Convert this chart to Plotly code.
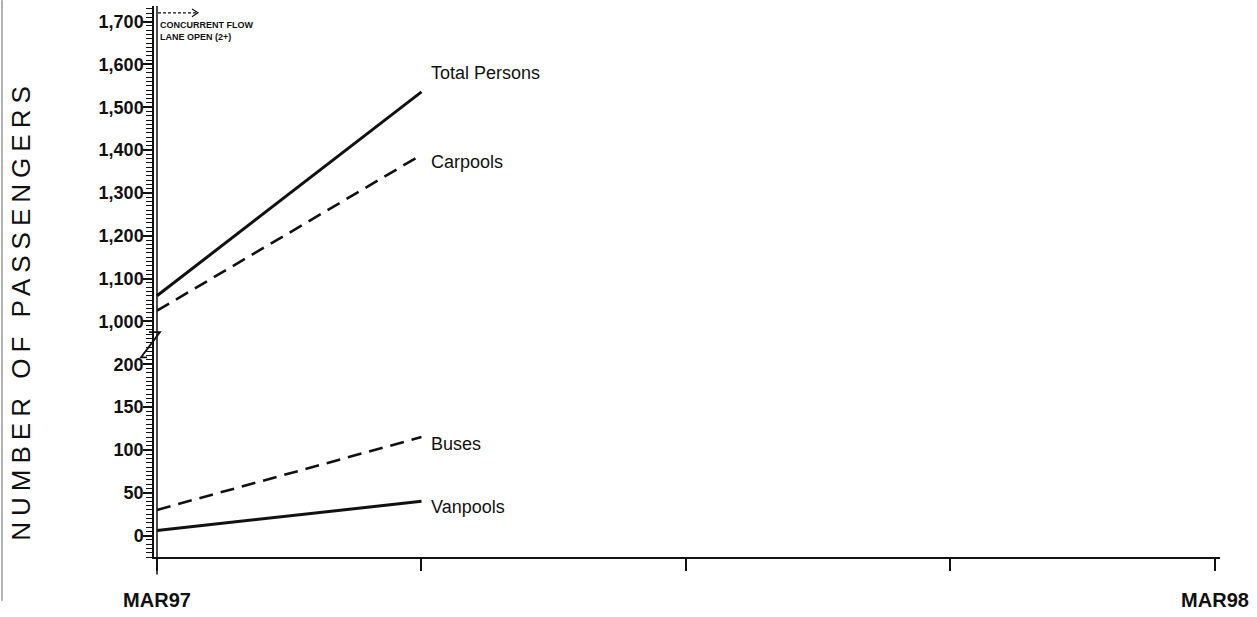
import plotly.graph_objects as go

# ---- data ----
months = [0, 3]  # months after MAR97
x_tick_vals = [0, 3, 6, 9, 12]
x_tick_text = ["MAR97", "", "", "", "MAR98"]

total_persons = [1060, 1536]
carpools = [1025, 1389]
buses = [30, 115]
vanpools = [6, 40]

y_tick_values = [0, 50, 100, 150, 200, 1000, 1100, 1200, 1300, 1400, 1500, 1600, 1700]
y_tick_text = ["0", "50", "100", "150", "200", "1,000", "1,100", "1,200",
               "1,300", "1,400", "1,500", "1,600", "1,700"]


# broken scale: 0-200 in steps of 50, then 1000-1700 in steps of 100
def yu(v):
    return v / 50.0 if v <= 200 else 5 + (v - 1000) / 100.0


FONT_NUM = "Liberation Sans, Arial"
FONT_TXT = "Liberation Sans, Arial"

fig = go.Figure()

series = [
    ("Total Persons", total_persons, "solid", 3, 19),
    ("Carpools", carpools, "14px,8px", 2.6, -7),
    ("Buses", buses, "14px,8px", 2.6, -7),
    ("Vanpools", vanpools, "solid", 3, -6),
]
for name, vals, dash, w, ys in series:
    fig.add_trace(go.Scatter(
        x=months, y=[yu(v) for v in vals], mode="lines",
        line=dict(color="#111", width=w, dash=dash), name=name,
        showlegend=False, hoverinfo="skip"))
    fig.add_annotation(x=months[-1], y=yu(vals[-1]), xref="x", yref="y",
                       text=name, showarrow=False, xanchor="left",
                       xshift=8, yshift=ys,
                       font=dict(family=FONT_TXT, size=18, color="#111"))

# plot geometry (pixels)
L, R, T, B = 154, 37, 6, 45
W, H = 1257, 617
pw, ph = W - L - R, H - T - B


def px(xp):
    return (xp - L) / pw


def py(yp):
    return (H - B - yp) / ph


fig.update_layout(
    width=W, height=H,
    margin=dict(l=L, r=R, t=T, b=B),
    paper_bgcolor="white", plot_bgcolor="white",
    xaxis=dict(range=[-0.034, 12.057], tickvals=x_tick_vals, ticktext=x_tick_text,
               showgrid=False, zeroline=False, showline=True, linecolor="#111",
               linewidth=1.5, ticks="outside", ticklen=12, tickwidth=1.5,
               tickcolor="#111", ticklabelstandoff=12,
               tickfont=dict(family=FONT_NUM, size=20, color="#111", weight="bold")),
    yaxis=dict(range=[-0.5, 12.364], tickvals=[yu(v) for v in y_tick_values],
               ticktext=y_tick_text, showgrid=False, zeroline=False, showline=True,
               linecolor="#111", linewidth=1.5, ticks="outside", ticklen=9,
               tickwidth=1.5, tickcolor="#111", ticklabelstandoff=-4,
               minor=dict(dtick=0.1, ticks="outside", ticklen=6, tickwidth=1,
                          tickcolor="#111"),
               tickfont=dict(family=FONT_NUM, size=18, color="#111", weight="bold")),
)

# event marker line at MAR97
fig.add_shape(type="line", xref="x", yref="paper", x0=0, x1=0,
              y0=py(590), y1=py(6), line=dict(color="#111", width=1.5))

# dashed arrow + note
fig.add_shape(type="line", xref="paper", yref="paper", x0=px(158), x1=px(197),
              y0=py(13), y1=py(13), line=dict(color="#111", width=1.2, dash="3px,2px"))
fig.add_shape(type="path", xref="paper", yref="paper",
              path=f"M {px(192)},{py(9)} L {px(198)},{py(13)} L {px(192)},{py(17)}",
              line=dict(color="#111", width=1.2))
fig.add_annotation(xref="paper", yref="paper", x=px(158), y=py(18),
                   xanchor="left", yanchor="top", align="left", showarrow=False,
                   text="CONCURRENT FLOW<br>LANE OPEN (2+)",
                   font=dict(family=FONT_NUM, size=9, color="#111", weight="bold"))

# axis break symbol
fig.add_shape(type="path", xref="paper", yref="paper",
              path=(f"M {px(149)},{py(341)} L {px(160)},{py(341)} "
                    f"L {px(141)},{py(367)} L {px(147)},{py(367)}"),
              line=dict(color="#111", width=1.8))

# scan edge line at far left
fig.add_shape(type="line", xref="paper", yref="paper", x0=px(2), x1=px(2),
              y0=py(617), y1=py(0), line=dict(color="#666", width=1))

# y axis title
fig.add_annotation(xref="paper", yref="paper", x=px(21), y=py(319),
                   xanchor="center", yanchor="middle", textangle=-90,
                   showarrow=False, text="NUMBER OF PASSENGERS",
                   font=dict(family=FONT_TXT, size=26, color="#111"))

post = """
document.body.style.margin = '0';
document.querySelectorAll('.annotation-text').forEach(function (t) {
  if (t.textContent === 'NUMBER OF PASSENGERS') { t.style.letterSpacing = '6px'; }
});
"""

fig.write_html("out.html", post_script=post, config={"displayModeBar": False})
